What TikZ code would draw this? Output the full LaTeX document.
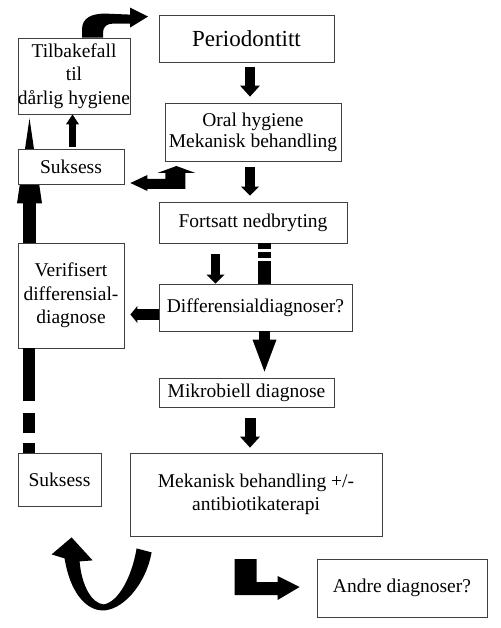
\documentclass[tikz,border=0pt]{standalone}
\usepackage{fontspec}
\setmainfont{Liberation Serif}
\usetikzlibrary{arrows.meta,calc}
\pgfdeclarelayer{background}
\pgfsetlayers{background,main}
\begin{document}
\begin{tikzpicture}[x=1pt,y=-1pt,
  box/.style={draw=black!75, line width=0.8pt, fill=white, inner sep=0pt, align=center,
    font=\fontsize{19.5}{23.4}\selectfont},
  blk/.style={fill=black, draw=none},
  tipA/.style={-{Triangle[width=#1,line width=0pt]}},
]
\useasboundingbox (0,0) rectangle (500,628);
\begin{pgfonlayer}{background}
  \fill[white] (0,0) rectangle (500,628);
\end{pgfonlayer}

% boxes
\node[box, minimum width=175pt, minimum height=47pt, font=\fontsize{23}{27}\selectfont] (perio) at (246.5,38.5) {Periodontitt};
\node[box, minimum width=176pt, minimum height=58pt, font=\fontsize{19.5}{21}\selectfont] (oral) at (253,132) {Oral hygiene\\Mekanisk behandling};
\node[box, minimum width=188pt, minimum height=41pt] (forts) at (253,222.5) {Fortsatt nedbryting};
\node[box, minimum width=193pt, minimum height=47pt] (diff) at (255.5,307.5) {Differensialdiagnoser?};
\node[box, minimum width=175pt, minimum height=29pt] (mikro) at (246.5,392.5) {Mikrobiell diagnose};
\node[box, minimum width=252pt, minimum height=83pt] (mek) at (256,494.5) {Mekanisk behandling +/-\\antibiotikaterapi};
\node[box, minimum width=170pt, minimum height=58pt] (andre) at (402,588) {Andre diagnoser?};
\node[box, minimum width=112pt, minimum height=76pt] (tilbake) at (74,76) {Tilbakefall\\til\\dårlig hygiene};
\node[box, minimum width=106pt, minimum height=35pt] (suk1) at (71,166.5) {Suksess};
\node[box, minimum width=106pt, minimum height=105pt] (verif) at (71,295.5) {Verifisert\\differensial-\\diagnose};
\node[box, minimum width=83pt, minimum height=53pt] (suk2) at (59.5,479.5) {Suksess};

% columns / rows for straight connectors
\coordinate (cA) at (250,0);
\coordinate (cB) at (215.5,0);
\coordinate (cD) at (264.5,0);
\coordinate (cL) at (72.5,0);
\coordinate (cU) at (29.5,0);
\coordinate (cS) at (29,0);
\coordinate (rV) at (0,314.5);

% straight block arrows
\draw[line width=10pt, -{Triangle[width=20pt,length=11pt,line width=0pt]}, shorten <=5pt, shorten >=6pt]
  (perio.south -| cA) -- (oral.north -| cA);
\draw[line width=10pt, -{Triangle[width=18pt,length=9pt,line width=0pt]}, shorten <=6pt, shorten >=6pt]
  (oral.south -| cA) -- (forts.north -| cA);
\draw[line width=9pt, -{Triangle[width=18pt,length=9pt,line width=0pt]}, shorten <=11pt]
  (forts.south -| cB) -- (diff.north -| cB);
\draw[line width=12.5pt, dash pattern=on 6pt off 3pt on 6pt off 3pt on 40pt]
  (forts.south -| cD) -- (diff.north -| cD);
\draw[line width=11pt, -{Triangle[width=24pt,length=32pt,line width=0pt]}, shorten >=6pt]
  (diff.south -| cD) -- (mikro.north -| cD);
\draw[line width=11pt, -{Triangle[width=17pt,length=7pt,line width=0pt]}, shorten >=6pt]
  (diff.west |- rV) -- (verif.east |- rV);
\draw[line width=11pt, -{Triangle[width=20pt,length=11pt,line width=0pt]}, shorten <=11pt, shorten >=5pt]
  (mikro.south -| cA) -- (mek.north -| cA);
\draw[line width=7pt, -{Triangle[width=13pt,length=10pt,line width=0pt]}, shorten <=2pt]
  (suk1.north -| cL) -- (tilbake.south -| cL);
\draw[line width=12pt, dash pattern=on 10pt off 10pt on 20pt off 12pt on 60pt]
  (suk2.north -| cS) -- (verif.south -| cS);

% long arrow behind the upper Suksess box
\begin{pgfonlayer}{background}
\draw[line width=13pt, -{Triangle[width=25pt,length=85pt,line width=0pt]}, shorten >=4pt]
  (verif.north -| cU) -- (tilbake.south -| cU);
\end{pgfonlayer}

% curved arrow Tilbakefall -> Periodontitt
\begin{scope}[shift={(tilbake.north)}]
\fill[blk] (8,0) -- (8,-8) .. controls (8,-20) and (18,-24) .. (31,-24) -- (56,-23)
  -- (56,-30) -- (74,-21) -- (56,-10) -- (56,-14) -- (39,-14)
  .. controls (33,-14) and (29,-11) .. (29,-5) -- (29,0) -- cycle;
\end{scope}

% bent arrow Oral hygiene -> Suksess
\begin{scope}[shift={(suk1.east)}]
\fill[blk] (6,16.5) -- (23,8.5) -- (23,12.5) -- (41,12.5) -- (41,6.5) -- (33,6.5)
  -- (52,-0.5) -- (71,6.5) -- (61,6.5) -- (61,22.5) -- (23,22.5) -- (23,24.5) -- cycle;
\end{scope}

% U-turn arrow Mekanisk behandling -> Suksess
\begin{scope}[shift={(mek.south west)}]
\fill[blk] (-65,22) -- (-78,18) -- (-58,1) -- (-37,24) -- (-50,25)
  .. controls (-48,49) and (-38,67) .. (-26,68)
  .. controls (-12,66) and (2,42) .. (7,12)
  -- (22,16)
  .. controls (16,49) and (-8,75) .. (-28,74)
  .. controls (-45,73) and (-60,54) .. (-65,22) -- cycle;
\end{scope}

% L arrow -> Andre diagnoser?
\begin{scope}[shift={(andre.west)}]
\fill[blk] (-82,-29) -- (-60,-29) -- (-60,-6) -- (-39,-6) -- (-39,-12) -- (-17,-1)
  -- (-39,12) -- (-39,7) -- (-82,7) -- cycle;
\end{scope}
\end{tikzpicture}
\end{document}
